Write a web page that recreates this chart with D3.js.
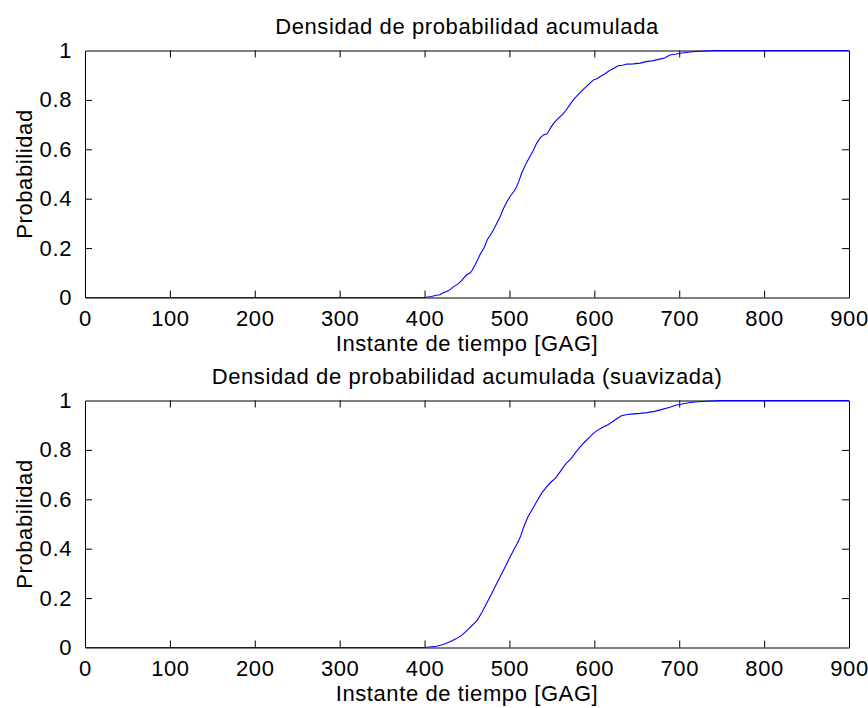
<!DOCTYPE html>
<html>
<head>
<meta charset="utf-8">
<script src="https://cdn.jsdelivr.net/npm/d3@7"></script>
<style>
  body { margin: 0; background: #fff; }
  svg text { font-family: "Liberation Sans", Arial, Helvetica, sans-serif; fill: #000; letter-spacing: 0.6px; }
</style>
</head>
<body>
<div id="chart"></div>
<script>
// tick labels
var xTicks = [0, 100, 200, 300, 400, 500, 600, 700, 800, 900]
var yTicks = [0, 0.2, 0.4, 0.6, 0.8, 1]

var titles = ['Densidad de probabilidad acumulada', 'Densidad de probabilidad acumulada (suavizada)']
var xLabel = 'Instante de tiempo [GAG]'
var yLabel = 'Probabilidad'

// raw cumulative curve
var rawTime = [0, 400, 408, 414, 418, 422, 428, 434, 440, 444, 450, 454, 456, 460, 466, 470, 474, 478, 481, 485,
  489, 493, 497, 501, 505, 508, 511, 514, 517, 520, 524, 528, 532, 536, 540, 544, 546, 549, 552, 556,
  562, 567, 572, 577, 582, 587, 593, 599, 603, 607, 612, 618, 623, 628, 633, 638, 646, 654, 661, 668,
  677, 683, 689, 695, 701, 708, 716, 726, 736, 748, 900]
var rawProb = [0, 0, 0.004, 0.009, 0.011, 0.019, 0.027, 0.043, 0.056, 0.07, 0.093, 0.1, 0.11, 0.135, 0.178, 0.2, 0.235, 0.255, 0.273, 0.3,
  0.327, 0.36, 0.388, 0.41, 0.428, 0.445, 0.469, 0.5, 0.523, 0.545, 0.57, 0.595, 0.624, 0.645, 0.658, 0.662, 0.672, 0.69, 0.705, 0.72,
  0.739, 0.759, 0.785, 0.807, 0.825, 0.843, 0.862, 0.881, 0.886, 0.895, 0.905, 0.919, 0.928, 0.938, 0.94, 0.945, 0.946, 0.949, 0.955, 0.958,
  0.965, 0.97, 0.982, 0.985, 0.989, 0.992, 0.995, 0.997, 0.999, 1, 1]

// smoothed cumulative curve
var smoothTime = [0, 400, 414, 422, 430, 437, 444, 452, 462, 468, 473, 479, 485, 491, 497, 501, 505, 509, 513, 517,
  522, 527, 532, 538, 544, 549, 554, 559, 564, 568, 573, 578, 583, 588, 593, 598, 603, 610, 615, 620,
  626, 632, 639, 646, 654, 662, 671, 681, 689, 697, 705, 713, 722, 732, 748, 900]
var smoothProb = [0, 0, 0.005, 0.012, 0.023, 0.035, 0.05, 0.075, 0.11, 0.145, 0.178, 0.218, 0.259, 0.3, 0.34, 0.368, 0.395, 0.42, 0.449, 0.49,
  0.53, 0.56, 0.59, 0.625, 0.651, 0.67, 0.685, 0.708, 0.732, 0.75, 0.766, 0.79, 0.811, 0.83, 0.847, 0.864, 0.878, 0.892, 0.9, 0.911,
  0.925, 0.938, 0.943, 0.946, 0.948, 0.951, 0.956, 0.965, 0.973, 0.982, 0.987, 0.992, 0.995, 0.997, 1, 1]

var width = 868
var height = 708
var left = 85, right = 849
var panelTops = [50.5, 400.5]
var panelHeight = 247
var tickLen = 7
var fontSize = 22

var svg = d3.select('#chart')
  .append('svg')
  .attr('width', width)
  .attr('height', height)

var xPositionScale = d3.scaleLinear().domain([0, 900]).range([left, right])

var series = [
  { time: rawTime, prob: rawProb },
  { time: smoothTime, prob: smoothProb }
]

series.forEach(function(s, i) {
  var top = panelTops[i]
  var bottom = top + panelHeight
  var yPositionScale = d3.scaleLinear().domain([0, 1]).range([bottom, top])

  var g = svg.append('g').attr('class', 'panel')

  // box and ticks, matlab style: inward ticks on all four sides
  var xAxisBottom = d3.axisBottom(xPositionScale).tickValues(xTicks).tickSizeInner(-tickLen).tickSizeOuter(0)
    .tickFormat(d3.format('d')).tickPadding(14)
  var xAxisTop = d3.axisTop(xPositionScale).tickValues(xTicks).tickSizeInner(-tickLen).tickSizeOuter(0)
    .tickFormat('')
  var yAxisLeft = d3.axisLeft(yPositionScale).tickValues(yTicks).tickSizeInner(-tickLen).tickSizeOuter(0)
    .tickFormat(d => d === 0 || d === 1 ? d : d.toFixed(1)).tickPadding(13)
  var yAxisRight = d3.axisRight(yPositionScale).tickValues(yTicks).tickSizeInner(-tickLen).tickSizeOuter(0)
    .tickFormat('')

  g.append('g').attr('class', 'axis axis-x')
    .attr('transform', 'translate(0,' + bottom + ')')
    .call(xAxisBottom)
  g.append('g').attr('class', 'axis axis-x-top')
    .attr('transform', 'translate(0,' + top + ')')
    .call(xAxisTop)
  g.append('g').attr('class', 'axis axis-y')
    .attr('transform', 'translate(' + left + ',0)')
    .call(yAxisLeft)
  g.append('g').attr('class', 'axis axis-y-right')
    .attr('transform', 'translate(' + right + ',0)')
    .call(yAxisRight)

  g.selectAll('.axis path').attr('stroke', '#000').attr('stroke-width', 1)
  g.selectAll('.axis line').attr('stroke', '#000').attr('stroke-width', 1)
  g.selectAll('.axis text')
    .attr('font-family', '"Liberation Sans", Arial, sans-serif')
    .attr('font-size', fontSize)
    .attr('fill', '#000')
  g.selectAll('.axis-x text').attr('dy', '0.68em')
  // corner ticks sit on the box edges, drop them
  g.selectAll('.axis-x .tick line').filter(d => d === 0 || d === 900).remove()
  g.selectAll('.axis-x-top .tick line').filter(d => d === 0 || d === 900).remove()
  g.selectAll('.axis-y .tick line').filter(d => d === 0 || d === 1).remove()
  g.selectAll('.axis-y-right .tick line').filter(d => d === 0 || d === 1).remove()

  // the curve, drawn over the box like matlab does
  var points = s.time.map(function(t, j) { return [t, s.prob[j]] })
  var line = d3.line()
    .x(d => xPositionScale(d[0]))
    .y(d => yPositionScale(d[1]))

  g.append('path')
    .datum(points)
    .attr('fill', 'none')
    .attr('stroke', '#0000ff')
    .attr('stroke-width', 1.1)
    .attr('d', line)

  // title
  g.append('text')
    .attr('x', (left + right) / 2)
    .attr('y', top - 17)
    .attr('text-anchor', 'middle')
    .attr('font-size', fontSize)
    .text(titles[i])

  // axis labels
  g.append('text')
    .attr('x', (left + right) / 2)
    .attr('y', bottom + 53)
    .attr('text-anchor', 'middle')
    .attr('font-size', fontSize)
    .text(xLabel)

  g.append('text')
    .attr('transform', 'translate(32,' + (top + bottom) / 2 + ') rotate(-90)')
    .attr('text-anchor', 'middle')
    .attr('font-size', fontSize)
    .text(yLabel)
})
</script>
</body>
</html>
